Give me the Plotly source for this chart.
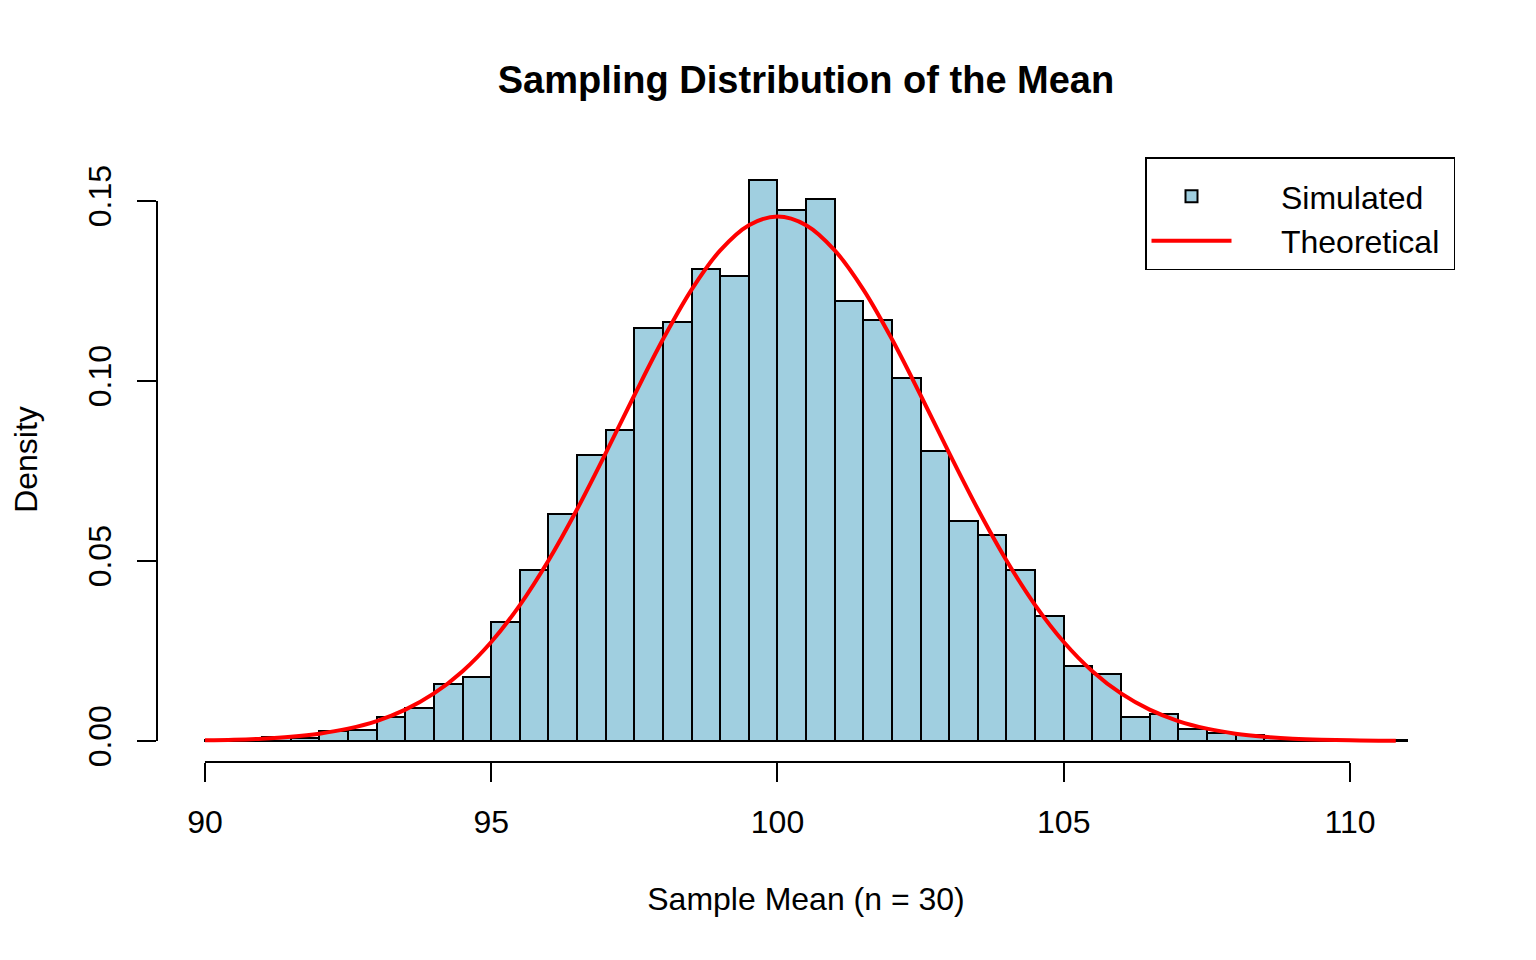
import plotly.graph_objects as go

# histogram of simulated sample means (density scale), bins 0.5 wide
bin_left = [90.0, 90.5, 91.0, 91.5, 92.0, 92.5, 93.0, 93.5, 94.0, 94.5,
            95.0, 95.5, 96.0, 96.5, 97.0, 97.5, 98.0, 98.5, 99.0, 99.5,
            100.0, 100.5, 101.0, 101.5, 102.0, 102.5, 103.0, 103.5, 104.0, 104.5,
            105.0, 105.5, 106.0, 106.5, 107.0, 107.5, 108.0, 108.5, 109.0, 109.5,
            110.0, 110.5]
density = [0.0002, 0.0004, 0.0011, 0.0009, 0.0029, 0.0031, 0.0068, 0.0091, 0.0159, 0.0179,
           0.0331, 0.0475, 0.0631, 0.0795, 0.0863, 0.1146, 0.1163, 0.1312, 0.1292, 0.1558,
           0.1475, 0.1506, 0.1223, 0.1170, 0.1007, 0.0806, 0.0611, 0.0571, 0.0475, 0.0347,
           0.0207, 0.0187, 0.0067, 0.0075, 0.0034, 0.0023, 0.0017, 0.0008, 0.0004, 0.0002,
           0.0002, 0.0002]

# theoretical normal curve
curve_x = [90, 90.5, 91, 91.5, 92, 92.5, 93, 93.5, 94, 94.5, 95, 95.5, 96, 96.5,
           97, 97.5, 98, 98.5, 99, 99.5, 100, 100.5, 101, 101.5, 102, 102.5, 103,
           103.5, 104, 104.5, 105, 105.5, 106, 106.5, 107, 107.5, 108, 108.5, 109,
           109.5, 110, 110.5, 110.8]
curve_y = [0.00019, 0.00036, 0.00066, 0.00118, 0.00204, 0.00343, 0.00555, 0.00871,
           0.01321, 0.01939, 0.02751, 0.03776, 0.05014, 0.06437, 0.07995, 0.09603,
           0.11157, 0.12538, 0.13628, 0.14327, 0.14567, 0.14327, 0.13628, 0.12538,
           0.11157, 0.09603, 0.07995, 0.06437, 0.05014, 0.03776, 0.02751, 0.01939,
           0.01321, 0.00871, 0.00555, 0.00343, 0.00204, 0.00118, 0.00066, 0.00036,
           0.00019, 0.00009, 0.00006]

x_ticks = [90, 95, 100, 105, 110]
y_ticks = [0, 0.05, 0.10, 0.15]
y_labels = ["0.00", "0.05", "0.10", "0.15"]

font_family = "Liberation Sans, Arial, Helvetica, sans-serif"
nb = "\u00a0"  # non-breaking space, used to pad the legend like R's legend box

fig = go.Figure()
fig.add_trace(go.Bar(x=bin_left, y=density, width=0.5, offset=0, name=nb * 5 + "Simulated",
                     marker=dict(color="#A0CFE0", line=dict(color="black", width=2))))
fig.add_trace(go.Scatter(x=curve_x, y=curve_y, mode="lines", name=nb * 5 + "Theoretical" + nb,
                         line=dict(color="#FF0000", width=4, shape="spline")))

# R-style axis lines that stop at the outer ticks
fig.add_shape(type="line", xref="x", yref="paper", x0=90, x1=110, y0=0, y1=0,
              line=dict(color="black", width=2))
fig.add_shape(type="line", xref="paper", yref="y", x0=0, x1=0, y0=0, y1=0.15,
              line=dict(color="black", width=2))

# page body adds 8px offset, margins are shifted to compensate
fig.update_layout(
    width=1536, height=960,
    paper_bgcolor="white", plot_bgcolor="white",
    font=dict(family=font_family, size=32, color="black"),
    margin=dict(l=149, r=89, t=149, b=206),
    bargap=0,
    title=dict(text="Sampling Distribution of the Mean", x=0.5, xref="paper",
               y=1 - 72 / 960, yanchor="middle",
               font=dict(size=38, weight="bold", family=font_family)),
    xaxis=dict(range=[89.162, 111.834], tickvals=x_ticks, ticks="outside", ticklen=19,
               tickwidth=2, tickcolor="black", showgrid=False, zeroline=False,
               showline=False, ticklabelstandoff=13, tickfont=dict(size=32),
               title=dict(text="Sample Mean (n = 30)", standoff=48, font=dict(size=32))),
    yaxis=dict(range=[-0.00583, 0.1622], tickvals=y_ticks, ticktext=y_labels,
               tickangle=-90, ticks="outside", ticklen=19, tickwidth=2,
               tickcolor="black", showgrid=False, zeroline=False, showline=False,
               ticklabelstandoff=13, tickfont=dict(size=32),
               title=dict(text="Density", standoff=35, font=dict(size=32))),
    legend=dict(x=1, y=1, xanchor="right", yanchor="top", bgcolor="white",
                bordercolor="black", borderwidth=1.5, itemwidth=80,
                font=dict(size=32),
                title=dict(text=nb, font=dict(size=8), side="top")),
)

fig.write_html("out.html")
